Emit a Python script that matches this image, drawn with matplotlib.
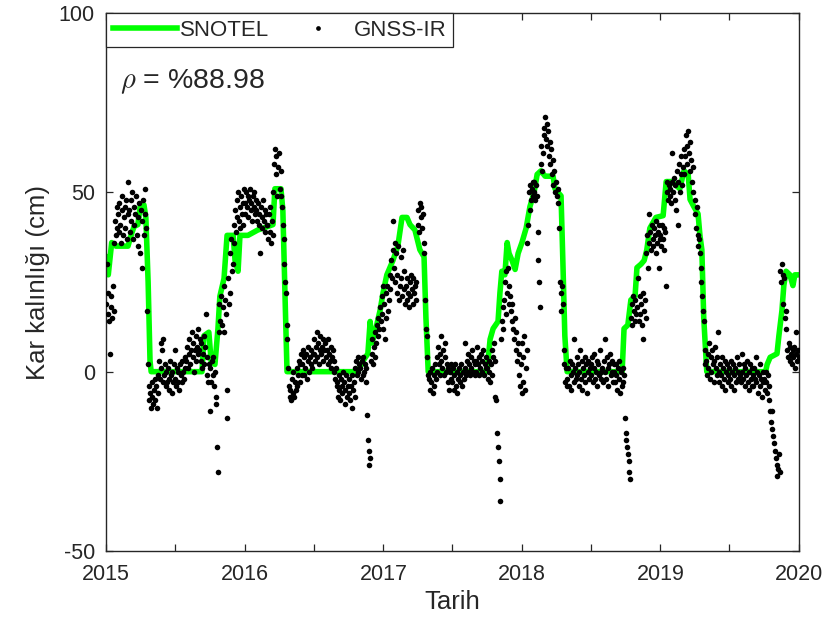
import numpy as np
import matplotlib
matplotlib.use("Agg")
import matplotlib.pyplot as plt
import matplotlib.dates as mdates
from matplotlib.lines import Line2D

plt.rcParams['font.family'] = ['Liberation Sans', 'DejaVu Sans']
plt.rcParams['mathtext.fontset'] = 'cm'

# SNOTEL snow depth (cm) at the turning points of the record
snotel_dates = [
    "2015-01-01", "2015-01-07", "2015-01-16", "2015-01-27", "2015-02-28", "2015-03-08",
    "2015-03-16", "2015-03-26", "2015-04-01", "2015-04-11", "2015-04-16", "2015-04-22",
    "2015-04-27", "2015-04-30", "2015-09-11", "2015-09-16", "2015-09-29", "2015-10-05",
    "2015-10-15", "2015-10-23", "2015-10-28", "2015-11-08", "2015-11-16", "2015-12-02",
    "2015-12-07", "2015-12-15", "2015-12-20", "2016-01-10", "2016-02-05", "2016-03-03",
    "2016-03-16", "2016-03-21", "2016-04-06", "2016-04-11", "2016-04-17", "2016-04-22",
    "2016-10-26", "2016-11-08", "2016-11-21", "2016-11-27", "2016-12-02", "2016-12-12",
    "2016-12-23", "2016-12-31", "2017-01-10", "2017-01-26", "2017-02-08", "2017-02-19",
    "2017-03-04", "2017-03-12", "2017-03-25", "2017-04-07", "2017-04-18", "2017-04-23",
    "2017-04-29", "2017-10-01", "2017-10-09", "2017-10-17", "2017-10-30", "2017-11-04",
    "2017-11-09", "2017-11-17", "2017-11-23", "2017-11-28", "2017-12-06", "2017-12-14",
    "2017-12-22", "2018-01-01", "2018-01-12", "2018-01-22", "2018-02-02", "2018-02-10",
    "2018-02-20", "2018-03-03", "2018-03-24", "2018-03-29", "2018-04-14", "2018-04-19",
    "2018-04-24", "2018-04-30", "2018-09-22", "2018-09-27", "2018-10-07", "2018-10-15",
    "2018-10-26", "2018-10-31", "2018-11-11", "2018-11-19", "2018-11-26", "2018-12-04",
    "2018-12-20", "2019-01-08", "2019-01-16", "2019-01-31", "2019-02-21", "2019-03-04",
    "2019-03-15", "2019-03-20", "2019-03-30", "2019-04-10", "2019-04-15", "2019-04-20",
    "2019-04-25", "2019-05-03", "2019-10-05", "2019-10-09", "2019-10-17", "2019-11-04",
    "2019-11-09", "2019-11-17", "2019-11-22", "2019-11-28", "2019-12-08", "2019-12-16",
    "2019-12-21", "2019-12-29",
]
snotel_cm = [
    32, 27, 36, 35, 35, 38,
    40.5, 41, 46, 46.5, 43, 25,
    3, 0, 0, 10, 11, 3,
    2, 12, 21, 26, 38, 38,
    31, 28, 38, 38, 39.5, 40.5,
    41, 51, 51, 45, 20, 0,
    0, 3, 5, 14, 8, 12,
    17, 22, 27, 31, 35, 43,
    43, 41, 39.5, 34, 32, 15,
    0, 0, 9, 12, 14, 22,
    28, 27, 36, 33, 31, 28.5,
    33, 36, 40, 46, 50, 55,
    56, 54.5, 54.5, 51, 49, 30,
    10, 0, 0, 12, 13, 20,
    21, 29, 30, 31, 34, 40,
    43, 43.5, 53, 53, 51, 56,
    55, 48, 46, 44, 38, 34,
    15, 0, 0, 2, 4, 5,
    10, 17, 24, 28, 27, 24,
    27, 27,
]

# GNSS-IR snow depth (cm), one reading every two days from the 1st of each month
gnss_2015 = [
    [19, 30, 16, 22, 14, 5, 18, 21, 15, 24, 17, 36, 42, 38, 46, 40],
    [44, 39, 47, 41, 36, 45, 49, 38, 43, 46, 40, 48, 37, 44],
    [53, 45, 39, 48, 42, 50, 37, 46, 41, 44, 49, 38, 43, 35, 47],
    [33, 45, 29, 42, 48, 38, 51, 44, 40, 17, 2, -4, -8, -6, -10],
    [-7, -3, -9, -5, -2, -8, -4, -10, -6, -1, 3, -2, 8, 1, 6, -3],
    [9, -1, 2, -4, 0, -3, 1, -5, -2, 3, -1, -6, 0, -3, 2],
    [-2, 6, -4, 1, -3, 0, -5, 2, -1, -3, 3, 0, -2, 4, 1],
    [3, 7, 1, 5, 9, 2, 6, 11, 4, 8, 0, 6, 10, 3, 7, 5],
    [12, 6, 9, 3, 8, 1, 5, 10, 2, 7, 16, -1, 4, -3, 2],
    [-11, 1, -3, 3, -1, 4, -4, 0, -7, -9, -21, -28, 11, 19, 14],
    [21, 13, 18, 24, 11, 20, 16, -5, -13, 26, 19, 33, 22, 37, 28],
    [30, 41, 36, 45, 39, 48, 43, 50, 42, 46, 40, 49, 44, 47, 41, 51],
]
gnss_2016 = [
    [47, 44, 50, 46, 49, 43, 48, 51, 45, 47, 42, 49, 46, 50, 44, 48],
    [45, 42, 47, 41, 44, 33, 46, 40, 43, 48, 42, 45, 39, 44, 41],
    [41, 37, 44, 39, 46, 36, 42, 38, 50, 58, 62, 55, 60, 49, 57],
    [61, 51, 56, 49, 46, 41, 37, 30, 25, 22, 13, 9, 1, -4, -7],
    [-5, -8, -2, -6, 0, -7, -3, -5, 1, -4, -1, 3, -3, 2, 5, -1],
    [2, 6, -1, 4, 1, 5, -2, 3, 7, 0, 4, 2, 6, 1, 5],
    [5, 9, 3, 7, 11, 4, 8, 2, 6, 10, 5, 7, 3, 9, 6],
    [8, 4, 6, 2, 9, 5, 3, 7, 1, 4, 6, 0, 3, -2, 1, -4],
    [-3, -7, -1, -5, -8, -2, -4, -6, 0, -3, -9, -5, -1, -7, -4],
    [-6, -2, -8, -4, -1, -10, -5, -3, -7, 1, 3, -1, 4, 0, 2],
    [1, -2, 3, -1, 4, 0, 2, -3, 1, -12, -19, -22, -26, -24, 3],
    [5, 9, 2, 7, 11, 4, 8, 13, 10, 15, 12, 18, 14, 21, 16, 24],
]
gnss_2017 = [
    [12, 19, 9, 22, 15, 24, 17, 20, 27, 23, 31, 26, 42, 34, 29, 36],
    [25, 33, 22, 27, 35, 20, 24, 32, 26, 21, 34, 23, 28, 19],
    [24, 20, 26, 22, 18, 25, 21, 27, 23, 19, 26, 22, 24, 20, 25],
    [41, 45, 39, 47, 43, 46, 40, 44, 36, 33, 20, 12, 10, 4, -1],
    [-2, -5, 0, -3, 1, -6, -1, -4, 2, -2, 4, 0, 7, 2, 5, -1],
    [3, 10, 1, 6, -1, 4, 8, 0, 2, -3, 1, -5, 0, -2, 2],
    [-3, 1, -5, -1, 2, -4, 0, -6, -2, 1, -3, -1, 2, -4, 0],
    [-2, 8, 1, -1, 3, 0, 5, 2, -1, 4, 1, 6, 0, 3, -1, 2],
    [3, 0, 7, 2, -1, 4, 1, 5, 0, 3, 6, -1, 2, 4, 1],
    [1, -2, 3, 0, -3, 2, 6, -1, 4, 8, -7, 3, -8, -17, -21],
    [-25, -30, -36, 9, 14, 18, 12, 20, 25, 16, 28, 22, 29, 19, 24],
    [21, 17, 14, 19, 12, 9, 15, 6, 11, 3, 8, -1, 5, -4, 2, -6],
]
gnss_2018 = [
    [8, -3, 4, 10, -5, 1, 6, 36, 41, 50, 45, 52, 48, 51, 49, 53],
    [50, 53, 48, 52, 49, 39, 31, 25, 18, 58, 63, 56, 61, 66],
    [68, 71, 65, 69, 63, 67, 60, 64, 58, 62, 55, 59, 52, 56, 50],
    [53, 49, 51, 47, 40, 25, 22, 17, 24, 19, 6, 2, -3, 1, -4],
    [-2, 1, -4, 3, -1, -5, 2, 0, -3, 9, 1, -2, 4, -1, 2, -4],
    [0, 6, -2, 3, -5, 1, -1, 4, -3, 2, -6, 0, 3, -2, 1],
    [2, -1, 4, -3, 1, 5, -2, 0, 3, -4, 2, -1, 6, 0, -2],
    [1, -3, 3, 9, 0, -2, 4, 1, -4, 2, 5, -1, 3, 0, -3, 2],
    [0, -3, 2, -1, -5, 1, -2, 3, -6, 0, -4, 1, -3, -1, -13],
    [-17, -19, -21, -23, -25, -28, -30, 15, 19, 13, 21, 17, 14, 20, 16],
    [18, 26, 14, 21, 16, 19, 13, 22, 9, 17, 20, 15, 33, 38, 29],
    [36, 44, 39, 34, 41, 37, 35, 40, 38, 33, 42, 36, 39, 29, 41, 37],
]
gnss_2019 = [
    [38, 35, 41, 37, 40, 34, 39, 24, 50, 53, 48, 52, 49, 51, 47, 53],
    [61, 50, 54, 48, 52, 45, 56, 41, 53, 58, 50, 55, 60, 52],
    [57, 62, 55, 60, 66, 63, 58, 67, 61, 56, 64, 59, 53, 57, 50],
    [48, 44, 40, 46, 38, 35, 37, 33, 29, 25, 21, 17, 14, 6, 2],
    [3, -1, 5, 1, 8, -2, 4, 0, 6, 2, -3, 3, 7, 1, -1, 4],
    [11, 0, -3, 2, -1, 4, -4, 1, -2, 3, -5, 0, 2, -1, -3],
    [1, -2, 3, -4, 0, 2, -1, -5, 1, -3, 4, 0, -2, 2, -1],
    [-3, 5, 0, -2, 2, -4, 1, -1, 3, -3, 0, -5, 2, -2, 1, -4],
    [-1, -4, 1, -2, 4, -3, 0, -6, -1, 2, -4, -2, -7, 0, -3],
    [-2, -5, 0, -3, -6, -1, -4, -8, -11, -14, -11, -16, -18, -20, -22],
    [-24, -26, -29, -27, -23, -28, 28, 25, 30, 27, 19, 26, 15, 12, 17],
    [6, 4, 8, 3, 7, 5, 2, 6, 4, 7, 1, 5, 11, 3, 6, 4],
]

y_ticks = [-50, 0, 50, 100]
rho_text = r"$\rho$ = %88.98"


def gnss_series(year, months):
    dates, values = [], []
    for m, vals in enumerate(months, start=1):
        start = np.datetime64(f"{year}-{m:02d}-01")
        dates.append(start + np.arange(len(vals)) * np.timedelta64(2, "D"))
        values.extend(vals)
    return np.concatenate(dates), np.array(values, dtype=float)


g_dates, g_vals = [], []
for yr, months in zip(range(2015, 2020), [gnss_2015, gnss_2016, gnss_2017, gnss_2018, gnss_2019]):
    d, v = gnss_series(yr, months)
    g_dates.append(d)
    g_vals.append(v)
g_dates = np.concatenate(g_dates)
g_vals = np.concatenate(g_vals)

s_dates = np.array(snotel_dates, dtype="datetime64[D]")
s_vals = np.array(snotel_cm, dtype=float)

ink = "#262626"
fig = plt.figure(figsize=(8.4, 6.3), dpi=100)
ax = fig.add_axes([106 / 840, 79 / 630, 693 / 840, 538 / 630])

green = "#00ff00"
ax.plot(s_dates, s_vals, color=green, lw=4.0, zorder=2)
ax.plot(g_dates, g_vals, ls="none", marker="o", ms=4.0, mfc="k", mec="k", mew=0, zorder=3)

ax.set_xlim(np.datetime64("2015-01-01"), np.datetime64("2020-01-01"))
ax.set_ylim(-50, 100)
ax.set_yticks(y_ticks)
ax.set_yticklabels([str(t) for t in y_ticks])
ax.xaxis.set_major_locator(mdates.YearLocator())
ax.xaxis.set_major_formatter(mdates.DateFormatter("%Y"))
ax.xaxis.set_minor_locator(mdates.MonthLocator(bymonth=7))

for sp in ax.spines.values():
    sp.set_color(ink)
    sp.set_linewidth(1.0)
ax.tick_params(which="both", direction="in", length=5, width=0.9, color=ink,
               top=True, right=True, labelcolor=ink, labelsize=15.5)
ax.tick_params(axis="x", pad=9)
ax.tick_params(axis="y", pad=8)

ax.set_xlabel("Tarih", fontsize=18.5, color=ink, labelpad=4)
ax.set_ylabel("Kar kalınlığı (cm)", fontsize=18.5, color=ink, labelpad=6)

handles = [
    Line2D([], [], color=green, lw=4.0),
    Line2D([], [], ls="none", marker="o", ms=3.4, mfc="k", mec="k", mew=0),
]
leg = ax.legend(handles, ["SNOTEL", "GNSS-IR"], ncol=2, loc="upper left",
                bbox_to_anchor=(0, 1), borderaxespad=0, fancybox=False,
                edgecolor=ink, framealpha=1, fontsize=16, handlelength=2.9,
                handletextpad=0.15, columnspacing=0.75, borderpad=0.3)
leg.get_frame().set_linewidth(0.9)
for t in leg.get_texts():
    t.set_color(ink)

fig.text(120 / 840, 1 - 82 / 630, rho_text, fontsize=20.5, color=ink,
         ha="left", va="center")

fig.savefig("out.png", dpi=100)
